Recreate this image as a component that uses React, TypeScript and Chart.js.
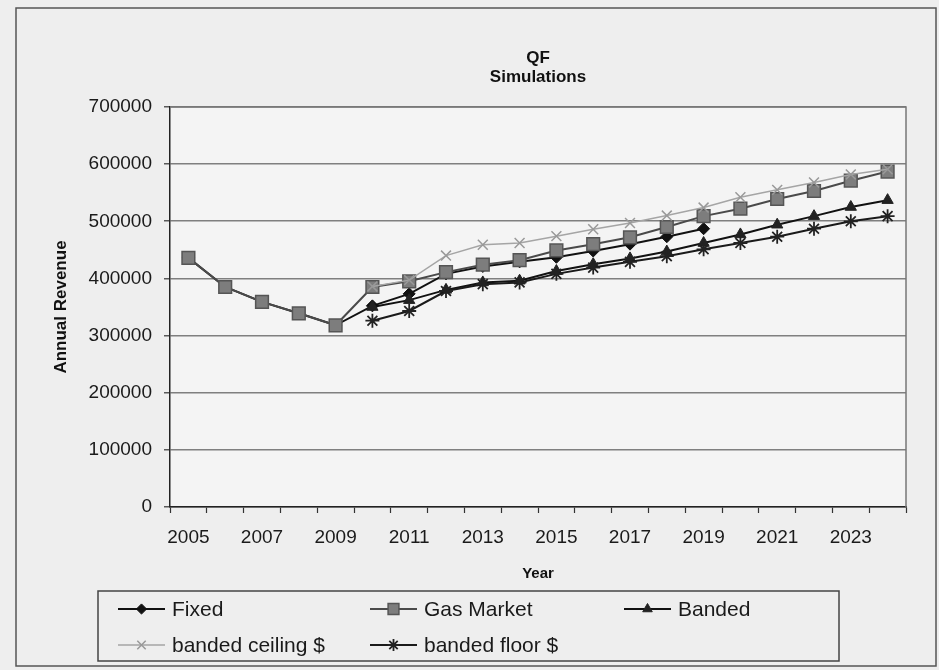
import { useEffect, useRef } from 'react';
import { Chart, registerables } from 'chart.js';
import { drawPoint } from 'chart.js/helpers';

Chart.register(...registerables);

const years = ['2005','2006','2007','2008','2009','2010','2011','2012','2013','2014','2015','2016','2017','2018','2019','2020','2021','2022','2023','2024'];
const fixed = [436000,385000,359000,339000,318000,352000,373000,408000,421000,429000,437000,448000,460000,473000,487000,null,null,null,null,null];
const gasMarket = [436000,385000,359000,339000,318000,385000,395000,411000,424000,432000,449000,460000,472000,490000,509000,522000,539000,553000,571000,587000];
const banded = [null,null,null,null,null,350000,362000,380000,393000,396000,413000,425000,435000,447000,462000,477000,494000,509000,525000,537000];
const bandedCeiling = [null,null,null,null,null,386000,397000,440000,459000,462000,474000,486000,497000,510000,524000,542000,555000,568000,582000,591000];
const bandedFloor = [null,null,null,null,null,326000,343000,378000,390000,393000,408000,419000,429000,439000,451000,462000,473000,487000,500000,509000];
const yTicks = [0,100000,200000,300000,400000,500000,600000,700000];
const titleLines = ['QF', 'Simulations'];

const FONT = "'Liberation Sans', Arial, sans-serif";

const framePlugin = {
  id: 'frame',
  beforeDraw(chart: any) {
    const { ctx, chartArea: a, width, height } = chart;
    ctx.save();
    ctx.fillStyle = '#eeeeee';
    ctx.fillRect(0, 0, width, height);
    ctx.fillStyle = '#f4f4f4';
    ctx.fillRect(a.left, a.top, a.right - a.left, a.bottom - a.top);
    ctx.restore();
  },
  afterDraw(chart: any) {
    const { ctx, chartArea: a } = chart;
    ctx.save();
    // outer border
    ctx.strokeStyle = '#555';
    ctx.lineWidth = 1.5;
    ctx.strokeRect(16, 8, 920, 658);
    // plot area border top/right
    ctx.strokeStyle = '#777';
    ctx.lineWidth = 1.5;
    ctx.beginPath();
    ctx.moveTo(a.left, a.top);
    ctx.lineTo(a.right, a.top);
    ctx.lineTo(a.right, a.bottom);
    ctx.stroke();
    // title
    ctx.fillStyle = '#111';
    ctx.font = `bold 17px ${FONT}`;
    ctx.textAlign = 'center';
    ctx.textBaseline = 'middle';
    const cx = (a.left + a.right) / 2;
    titleLines.forEach((t, i) => ctx.fillText(t, cx, 58 + i * 19));
    // legend
    ctx.strokeStyle = '#444';
    ctx.lineWidth = 1.5;
    ctx.strokeRect(98, 591, 741, 70);
    const slots = [
      { x: 118, y: 609 },
      { x: 370, y: 609 },
      { x: 624, y: 609 },
      { x: 118, y: 645 },
      { x: 370, y: 645 },
    ];
    chart.data.datasets.forEach((ds: any, i: number) => {
      const s = slots[i];
      ctx.save();
      ctx.strokeStyle = ds.borderColor;
      ctx.lineWidth = ds.borderWidth;
      ctx.beginPath();
      ctx.moveTo(s.x, s.y);
      ctx.lineTo(s.x + 47, s.y);
      ctx.stroke();
      ctx.fillStyle = ds.pointBackgroundColor;
      ctx.strokeStyle = ds.pointBorderColor;
      ctx.lineWidth = ds.pointBorderWidth;
      drawPoint(ctx, {
        pointStyle: ds.pointStyle,
        radius: ds.pointRadius * 0.85,
        borderWidth: ds.pointBorderWidth,
      } as any, s.x + 23.5, s.y);
      ctx.fillStyle = '#1a1a1a';
      ctx.font = `21px ${FONT}`;
      ctx.textAlign = 'left';
      ctx.textBaseline = 'middle';
      ctx.fillText(ds.label, s.x + 54, s.y + 1);
      ctx.restore();
    });
    ctx.restore();
  },
};

export default function App() {
  const ref = useRef<HTMLCanvasElement>(null);
  useEffect(() => {
    document.body.style.margin = '0';
    const mk = (label: string, data: any[], line: string, lw: number, style: string, r: number, fill: string, stroke: string, pbw: number, order: number) => ({
      label, data, order,
      borderColor: line, borderWidth: lw,
      pointStyle: style, pointRadius: r,
      pointBackgroundColor: fill, pointBorderColor: stroke, pointBorderWidth: pbw,
      pointHoverRadius: r,
      tension: 0, spanGaps: false, fill: false,
    });
    const chart = new Chart(ref.current!, {
      type: 'line',
      data: {
        labels: years,
        datasets: [
          mk('Fixed', fixed, '#111', 2, 'rectRot', 6, '#111', '#111', 1, 5),
          mk('Gas Market', gasMarket, '#4a4a4a', 2, 'rect', 9, '#7d7d7d', '#555', 1.5, 4),
          mk('Banded', banded, '#111', 2, 'triangle', 6.5, '#222', '#222', 1, 3),
          mk('banded ceiling $', bandedCeiling, '#a5a5a5', 1.5, 'crossRot', 7, '#999', '#999', 1.5, 2),
          mk('banded floor $', bandedFloor, '#1a1a1a', 2, 'star', 7, '#222', '#222', 1.8, 1),
        ],
      },
      options: {
        animation: false,
        responsive: false,
        devicePixelRatio: 1,
        layout: { padding: { left: 47, right: 33, top: 107, bottom: 83 } },
        plugins: {
          legend: { display: false },
          title: { display: false },
          tooltip: { enabled: false },
        },
        scales: {
          x: {
            type: 'category',
            offset: true,
            grid: { offset: true, drawOnChartArea: false, drawTicks: true, tickLength: 6, tickColor: '#333', tickWidth: 1.2 },
            border: { color: '#222', width: 1.5 },
            ticks: {
              autoSkip: false, maxRotation: 0, padding: 13,
              color: '#1a1a1a', font: { family: FONT, size: 19 },
              callback: (_v: any, i: number) => (i % 2 === 0 ? years[i] : ''),
            },
            title: { display: true, text: 'Year', color: '#111', font: { family: FONT, size: 15, weight: 'bold' }, padding: { top: 4, bottom: 4 } },
            afterFit: (s: any) => { s.height = 80; },
          },
          y: {
            min: 0, max: 700000,
            afterBuildTicks: (s: any) => { s.ticks = yTicks.map((v) => ({ value: v })); },
            grid: { color: '#7f7f7f', lineWidth: 1.6, drawTicks: true, tickLength: 6, tickColor: '#333', tickWidth: 1.2 },
            border: { color: '#222', width: 1.5 },
            ticks: {
              padding: 12, color: '#1a1a1a', font: { family: FONT, size: 19 },
              callback: (v: any) => String(v),
            },
            title: { display: true, text: 'Annual Revenue', color: '#111', font: { family: FONT, size: 17, weight: 'bold' }, padding: { top: 4, bottom: 4 } },
            afterFit: (s: any) => { s.width = 123; },
          },
        },
      } as any,
      plugins: [framePlugin],
    });
    return () => chart.destroy();
  }, []);
  return <canvas ref={ref} width={939} height={670} style={{ display: 'block' }} />;
}
